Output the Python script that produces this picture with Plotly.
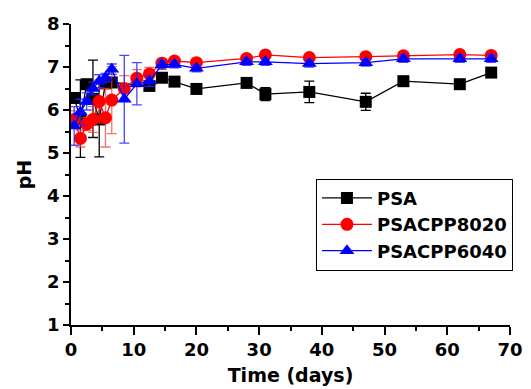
import plotly.graph_objects as go

# PSA
psa_days = [0.5, 1.5, 2.5, 3.5, 4.5, 5.5, 6.5, 12.5, 14.5, 16.5, 20, 28, 31, 38, 47, 53, 62, 67]
psa_ph   = [6.28, 5.8, 6.6, 6.26, 5.78, 6.62, 6.64, 6.56, 6.75, 6.66, 6.49, 6.63, 6.37, 6.42, 6.19, 6.67, 6.6, 6.87]
psa_err  = [0.1, 0.9, 0.1, 0.9, 0.87, 0.1, 0.1, 0.08, 0.05, 0.05, 0.05, 0.05, 0.15, 0.25, 0.2, 0.05, 0.05, 0.1]

# PSACPP8020
r_days = [0.5, 1.5, 2.5, 3.5, 4.5, 5.5, 6.5, 8.5, 10.5, 12.5, 14.5, 16.5, 20, 28, 31, 38, 47, 53, 62, 67]
r_ph   = [5.78, 5.34, 5.67, 5.78, 6.2, 5.82, 6.23, 6.5, 6.74, 6.84, 7.09, 7.14, 7.1, 7.2, 7.28, 7.22, 7.24, 7.26, 7.29, 7.27]
r_err  = [0.2, 0.2, 0.15, 0.3, 0.5, 0.68, 0.78, 0.3, 0.2, 0.15, 0.1, 0.08, 0.06, 0.06, 0.06, 0.05, 0.05, 0.05, 0.05, 0.05]

# PSACPP6040
b_days = [0.5, 1.5, 2.5, 3.5, 4.5, 5.5, 6.5, 8.5, 10.5, 12.5, 14.5, 16.5, 20, 28, 31, 38, 47, 53, 62, 67]
b_ph   = [5.63, 5.95, 6.2, 6.5, 6.67, 6.75, 6.95, 6.25, 6.61, 6.67, 7.05, 7.06, 6.97, 7.12, 7.12, 7.08, 7.1, 7.19, 7.19, 7.19]
b_err  = [0.45, 0.3, 0.2, 0.15, 0.15, 0.1, 0.12, 1.02, 0.49, 0.12, 0.1, 0.08, 0.08, 0.08, 0.08, 0.08, 0.08, 0.08, 0.08, 0.08]

FONT = "DejaVu Sans"

fig = go.Figure()

def add(name, x, y, e, color, ecolor, symbol, size):
    fig.add_trace(go.Scatter(
        x=x, y=y, name=name, mode="lines+markers",
        line=dict(color=color, width=1.3),
        marker=dict(symbol=symbol, size=size, color=color),
        error_y=dict(type="data", array=e, visible=True, color=ecolor, thickness=1.3, width=5),
    ))

add("PSA", psa_days, psa_ph, psa_err, "black", "black", "square", 12)
add("PSACPP8020", r_days, r_ph, r_err, "red", "rgba(255,60,60,0.75)", "circle", 13)
add("PSACPP6040", b_days, b_ph, b_err, "blue", "rgba(40,40,255,0.85)", "triangle-up", 13)

# page has an 8px body margin, so the figure is sized to fill the rest of the window
fig.update_layout(
    width=523, height=381,
    margin=dict(l=63, r=21, t=16, b=64, autoexpand=False),
    paper_bgcolor="white", plot_bgcolor="white",
    font=dict(family=FONT, size=18, color="black", weight="bold"),
    legend=dict(
        x=0.558, y=0.486, xanchor="left", yanchor="top",
        bordercolor="black", borderwidth=1, bgcolor="white",
        font=dict(family=FONT, size=18, color="black", weight="bold"),
        itemwidth=50, tracegroupgap=0,
    ),
    showlegend=True,
)

fig.update_xaxes(
    range=[0, 70], dtick=10, tick0=0, automargin=False,
    showline=True, linecolor="black", linewidth=1.5,
    ticks="outside", ticklen=8, tickwidth=1.5, tickcolor="black",
    minor=dict(dtick=5, ticks="outside", ticklen=4, tickwidth=1.5, tickcolor="black", showgrid=False),
    showgrid=False, zeroline=False,
    tickfont=dict(family=FONT, size=18, weight="bold"),
    title=dict(text="Time (days)", font=dict(family=FONT, size=19, weight="bold"), standoff=9),
)
fig.update_yaxes(
    range=[1, 8], dtick=1, tick0=1, automargin=False,
    showline=True, linecolor="black", linewidth=1.5,
    ticks="outside", ticklen=6, tickwidth=1.5, tickcolor="black",
    minor=dict(dtick=0.5, ticks="outside", ticklen=4, tickwidth=1.5, tickcolor="black", showgrid=False),
    showgrid=False, zeroline=False,
    tickfont=dict(family=FONT, size=18, weight="bold"),
    title=dict(text="pH", font=dict(family=FONT, size=19, weight="bold"), standoff=10),
)

fig.write_html("out.html")
